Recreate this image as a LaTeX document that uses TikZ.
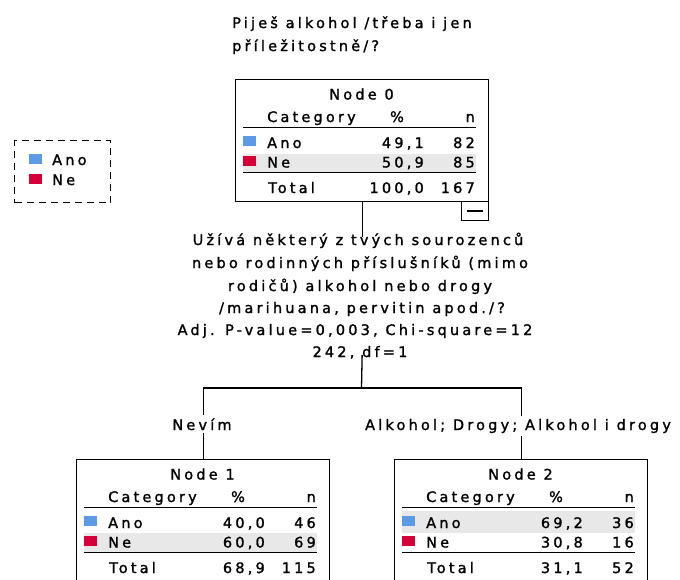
\documentclass[tikz,border=0pt]{standalone}
\usepackage{fontspec}
\setmainfont{DejaVu Sans}[LetterSpace=22, FakeBold=1.4]
\definecolor{anoblue}{RGB}{92,154,230}
\definecolor{nered}{RGB}{214,0,56}
\definecolor{rowgray}{RGB}{232,232,232}
\tikzset{
  txt/.style={inner sep=0pt, font=\fontsize{14.5}{16}\selectfont},
  boxframe/.style={draw, line width=1.3pt, anchor=north west, inner sep=0pt},
  sepline/.style={line width=1pt},
  swatch/.style={inner sep=0pt, minimum width=13pt, minimum height=10pt, anchor=north west},
  conn/.style={line width=1.3pt},
  branchlab/.style={txt, fill=white, inner xsep=1pt, inner ysep=3pt, anchor=base},
}
% frame: name, x, y, title, height, gray top, gray bottom
\newcommand\spssframe[7]{%
  \begin{scope}[shift={(#2,#3)}]
    \fill[rowgray] (8,#6) rectangle (241,#7);
    \node[boxframe, minimum width=253pt, minimum height=#5pt] (#1) at (0,0) {};
    \node[txt, anchor=base] (#1-title) at (126.5,20.5) {#4};
    \node[txt, anchor=base west] (#1-cat) at (32,43) {Category};
    \node[txt, anchor=base] (#1-pct) at (162,43) {\%};
    \node[txt, anchor=base east] (#1-n) at (240,43) {n};
    \draw[sepline] (8,48) -- (241,48);
    \draw[sepline] (8,93) -- (241,93);
    \node[swatch, fill=anoblue] (#1-sa) at (8,57) {};
    \node[swatch, fill=nered] (#1-sn) at (8,77) {};
    \node[txt, anchor=base west] (#1-la) at (32,69) {Ano};
    \node[txt, anchor=base west] (#1-ln) at (32,88.5) {Ne};
    \node[txt, anchor=base west] (#1-lt) at (33,114) {Total};
  \end{scope}}
% data: name, x, y, ano %, ano n, ne %, ne n, total %, total n
\newcommand\spssdata[9]{%
  \begin{scope}[shift={(#2,#3)}]
    \node[txt, anchor=base east] (#1-ap) at (189,69) {#4};
    \node[txt, anchor=base east] (#1-an) at (240,69) {#5};
    \node[txt, anchor=base east] (#1-np) at (189,88.5) {#6};
    \node[txt, anchor=base east] (#1-nn) at (240,88.5) {#7};
    \node[txt, anchor=base east] (#1-tp) at (189,114) {#8};
    \node[txt, anchor=base east] (#1-tn) at (240,114) {#9};
  \end{scope}}
\begin{document}
\begin{tikzpicture}[x=1pt,y=-1pt]
\useasboundingbox (0,0) rectangle (680,579);
\clip (0,0) rectangle (680,579);
\fill[white] (0,0) rectangle (680,579);

% title
\node[txt, anchor=base west] (title1) at (232,28) {Piješ alkohol /třeba i jen};
\node[txt, anchor=base west] (title2) at (232,51) {příležitostně/?};

% legend
\node[draw, dashed, dash pattern=on 7pt off 5pt, line width=1.2pt, anchor=north west,
      minimum width=96pt, minimum height=62pt, inner sep=0pt] (legend) at (14,140) {};
\node[swatch, fill=anoblue] (leg-sa) at (29,154) {};
\node[swatch, fill=nered] (leg-sn) at (29,174) {};
\node[txt, anchor=base west] (leg-a) at (52,165) {Ano};
\node[txt, anchor=base west] (leg-n) at (52,185) {Ne};

% nodes
\spssframe{node0}{235}{79}{Node 0}{122}{75}{93}
\spssdata{node0}{235}{79}{49,1}{82}{50,9}{85}{100,0}{167}
\node[draw, line width=1.2pt, minimum width=27pt, minimum height=19pt, anchor=north west,
      inner sep=0pt] (collapse0) at (461,201) {\rule{16pt}{1.3pt}};

\spssframe{node1}{76}{459}{Node 1}{150}{74}{93}
\spssdata{node1}{76}{459}{40,0}{46}{60,0}{69}{68,9}{115}

\spssframe{node2}{394}{459}{Node 2}{150}{52}{74}
\spssdata{node2}{394}{459}{69,2}{36}{30,8}{16}{31,1}{52}

% split question
\node[txt, anchor=base] (q1) at (358,245) {Užívá některý z tvých sourozenců};
\node[txt, anchor=base] (q2) at (360,268) {nebo rodinných příslušníků (mimo};
\node[txt, anchor=base] (q3) at (360,291) {rodičů) alkohol nebo drogy};
\node[txt, anchor=base] (q4) at (362,313) {/marihuana, pervitin apod./?};
\node[txt, anchor=base] (q5) at (355,335) {Adj. P-value=0,003, Chi-square=12};
\node[txt, anchor=base] (q6) at (360,357) {242, df=1};

\coordinate (j) at (361.5,388);
\node[branchlab] (lab1) at (202,430) {Nevím};
\node[branchlab] (lab2) at (518,430) {Alkohol; Drogy; Alkohol i drogy};

\draw[conn] (node0.south) -- ([yshift=-4pt]node0.south |- q1.north);
\draw[conn] ([yshift=4pt]node0.south |- q6.south) -- (j);
\draw[conn] (node1.north |- lab1.north) |- (j) -| (node2.north |- lab2.north);
\draw[conn] (node1.north |- lab1.south) -- (node1.north);
\draw[conn] (node2.north |- lab2.south) -- (node2.north);
\end{tikzpicture}
\end{document}
